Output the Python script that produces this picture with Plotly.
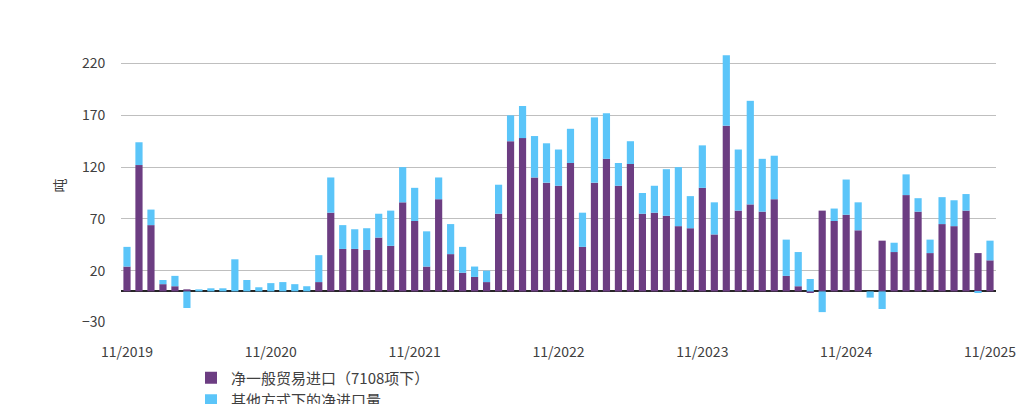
import plotly.graph_objects as go

# monthly data 11/2019 .. 11/2025, tonnes
general = [24, 122, 64, 7, 5, 2, 0, 0, 0, 0, 0, 0, 0, 0, 0, 0, 9, 76, 41, 41,
           40, 52, 44, 86, 68, 24, 89, 36, 18, 14, 9, 75, 145, 148, 110, 105, 102, 124, 43, 105,
           128, 102, 123, 75, 76, 73, 63, 61, 100, 55, 160, 78, 84, 77, 89, 15, 5, -1, 78, 68,
           74, 59, 0, 49, 38, 93, 77, 37, 65, 63, 78, 37, 30]
other = [19, 22, 15, 4, 10, -16, 2, 3, 3, 31, 11, 4, 8, 9, 7, 5, 26, 34, 23, 19,
         21, 23, 34, 34, 32, 34, 21, 29, 25, 10, 11, 28, 25, 31, 40, 38, 35, 33, 33, 63,
         44, 22, 22, 20, 26, 45, 57, 31, 41, 31, 68, 59, 100, 51, 42, 35, 33, 12, -20, 12,
         34, 27, -6, -17, 9, 20, 13, 13, 26, 25, 16, -1, 19]
months = list(range(len(general)))
tick_pos = [0, 12, 24, 36, 48, 60, 72]
tick_txt = ['11/2019', '11/2020', '11/2021', '11/2022', '11/2023', '11/2024', '11/2025']

font = 'Noto Sans CJK SC, Noto Sans, sans-serif'

fig = go.Figure()
fig.add_trace(go.Bar(x=months, y=general, name='净一般贸易进口（7108项下）',
                     marker=dict(color='#6c3d82', line_width=0)))
fig.add_trace(go.Bar(x=months, y=other, name='其他方式下的净进口量',
                     marker=dict(color='#5bc5f9', line_width=0)))

fig.update_layout(
    barmode='relative',
    bargap=0.4,
    width=1024, height=404,
    margin=dict(l=113, r=36, t=40, b=89, autoexpand=False),
    plot_bgcolor='white', paper_bgcolor='white',
    font=dict(family=font, size=14, color='#404040'),
    xaxis=dict(range=[-0.5, 72.5], tickvals=tick_pos, ticktext=tick_txt,
               showgrid=False, ticks='outside', ticklen=16, tickcolor='white',
               tickfont=dict(size=14)),
    yaxis=dict(range=[-30.5, 235], tickvals=[-30, 20, 70, 120, 170, 220],
               showgrid=True, gridcolor='#bfbfbf', gridwidth=1,
               zeroline=True, zerolinecolor='#262626', zerolinewidth=1.5,
               tickfont=dict(size=14), ticklen=12, ticks='outside', tickcolor='white',
               title=dict(text='吨', font=dict(size=14), standoff=12)),
    legend=dict(orientation='h', x=0.08, y=-0.24, xanchor='left', yanchor='middle',
                entrywidth=430, font=dict(size=15)),
)

fig.write_html('out.html')
